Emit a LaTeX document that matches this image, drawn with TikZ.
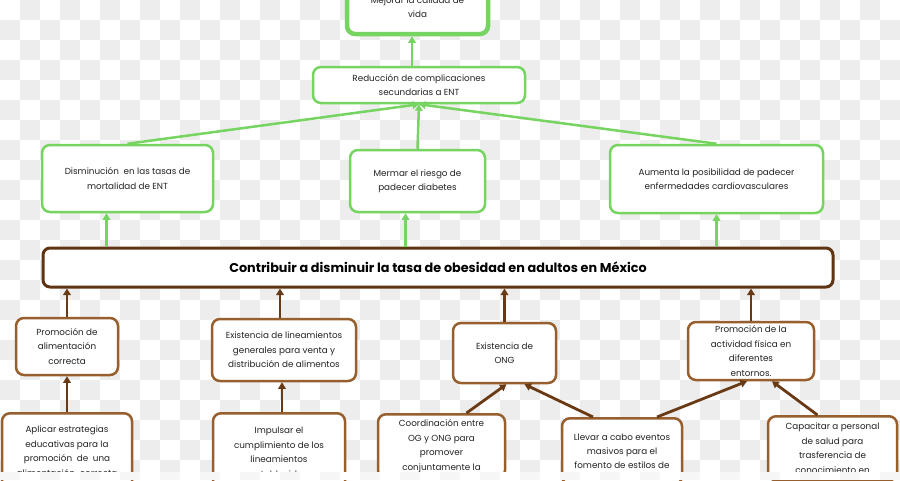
\documentclass[tikz,border=0pt]{standalone}
\usepackage{fontspec}
\setmainfont{Poppins}
\usetikzlibrary{arrows.meta, positioning, calc}
\definecolor{leafgreen}{RGB}{118,212,96}
\definecolor{barkbrown}{RGB}{150,95,45}
\definecolor{darkbark}{RGB}{95,52,18}
\definecolor{arrowbrown}{RGB}{105,58,20}
\definecolor{checkgray}{RGB}{237,237,237}
\definecolor{inktext}{RGB}{35,35,35}
\tikzset{
    effectbox/.style={rectangle, draw=leafgreen, line width=2.5pt, rounded corners=8pt,
        fill=white, align=center, text=inktext, inner sep=2pt,
        font=\fontsize{8.8}{14.4}\selectfont},
    causebox/.style={rectangle, draw=barkbrown, line width=2.5pt, rounded corners=8pt,
        fill=white, align=center, text=inktext, inner sep=2pt,
        font=\fontsize{8.8}{14.4}\selectfont},
    goalbox/.style={rectangle, draw=darkbark, line width=3pt, rounded corners=7pt,
        fill=white, align=center, text=black, inner sep=2pt,
        font=\fontsize{12.8}{15}\selectfont\bfseries},
    greenarrow/.style={-{Triangle[length=6.5pt,width=7.5pt]}, line width=2.5pt, draw=leafgreen},
    brownarrow/.style={-{Triangle[length=6.5pt,width=7.5pt]}, line width=2.8pt, draw=arrowbrown}
}

\begin{document}
\begin{tikzpicture}[x=1pt, y=-1pt]

    \useasboundingbox (0,0) rectangle (900,480);
    \clip (0,0) rectangle (900,480);

    % background checks
    \foreach \i in {0,...,44} {
        \pgfmathtruncatemacro{\off}{1-mod(\i,2)}
        \foreach \j in {0,2,...,22}
            \fill[checkgray] (20*\i, 20*\j+20*\off) rectangle ++(20,20);
    }

    % effects
    \node[effectbox, line width=4.5pt, minimum width=141pt, minimum height=54pt] (mejorar) at (417.5,7) {Mejorar la calidad de\\vida};
    \node[effectbox, minimum width=212pt, minimum height=36pt] (reduccion) at (419,85) {Reducción de complicaciones\\secundarias a ENT};
    \node[effectbox, minimum width=171pt, minimum height=67pt] (disminucion) at (127.5,178.5) {Disminución\ \ en las tasas de\\mortalidad de ENT};
    \node[effectbox, minimum width=135pt, minimum height=62pt] (mermar) at (417.5,181) {Mermar el riesgo de\\padecer diabetes};
    \node[effectbox, minimum width=213pt, minimum height=68pt] (aumenta) at (716.5,179) {Aumenta la posibilidad de padecer\\enfermedades cardiovasculares};

    \node[goalbox, minimum width=790pt, minimum height=39pt] (meta) at (438,267.5) {Contribuir a disminuir la tasa de obesidad en adultos en México};

    % causes
    \node[causebox, minimum width=102pt, minimum height=57pt] (alimentacion) at (67,346.5) {Promoción de\\alimentación\\correcta};
    \node[causebox, minimum width=144pt, minimum height=62pt] (lineamientos) at (284,350) {Existencia de lineamientos\\generales para venta y\\distribución de alimentos};
    \node[causebox, minimum width=103pt, minimum height=60pt] (ong) at (504.5,353) {Existencia de\\ONG};
    \node[causebox, minimum width=126pt, minimum height=58pt] (actividad) at (751,351) {Promoción de la\\actividad física en\\diferentes\\entornos.};

    \node[causebox, anchor=north, minimum width=130pt, minimum height=76pt] (estrategias) at (67,412) {Aplicar estrategias\\educativas para la\\promoción\ \ de\ \ una\\alimentación\ \ correcta};
    \node[causebox, anchor=north, minimum width=132pt, minimum height=78pt] (impulsar) at (279,412) {Impulsar el\\cumplimiento de los\\lineamientos\\establecidos};
    \node[causebox, anchor=north, minimum width=127pt, minimum height=64pt] (coordinacion) at (441.5,413) {Coordinación entre\\OG y ONG para\\promover\\conjuntamente la};
    \node[causebox, anchor=north, minimum width=120pt, minimum height=66pt] (eventos) at (622,417) {Llevar a cabo eventos\\masivos para el\\fomento de estilos de};
    \node[causebox, anchor=north, minimum width=129pt, minimum height=64pt] (capacitar) at (832.5,415) {Capacitar a personal\\de salud para\\trasferencia de\\conocimiento en};

    \draw[greenarrow] ([xshift=-7pt]reduccion.north) -- ([xshift=-7pt]reduccion.north |- mejorar.south);
    \foreach \src in {disminucion, mermar, aumenta}
        \draw[greenarrow] (\src.north) -- (reduccion.south);
    \draw[greenarrow] ([xshift=-21pt]disminucion.south |- meta.north) -- ([xshift=-21pt]disminucion.south);
    \draw[greenarrow] ([xshift=-12pt]mermar.south |- meta.north) -- ([xshift=-12pt]mermar.south);
    \draw[greenarrow] (aumenta.south |- meta.north) -- (aumenta.south);

    \draw[brownarrow] (alimentacion.north) -- (alimentacion.north |- meta.south);
    \draw[brownarrow] ([xshift=-4pt]lineamientos.north) -- ([xshift=-4pt]lineamientos.north |- meta.south);
    \draw[brownarrow] (ong.north) -- (ong.north |- meta.south);
    \draw[brownarrow] (actividad.north) -- (actividad.north |- meta.south);
    \draw[brownarrow] (estrategias.north) -- (alimentacion.south);
    \draw[brownarrow] ([xshift=3pt]impulsar.north) -- ([xshift=3pt]impulsar.north |- lineamientos.south);
    \draw[brownarrow] ([xshift=25pt]coordinacion.north) -- ([xshift=2pt]ong.south);
    \draw[brownarrow] ([xshift=-29pt]eventos.north) -- ([xshift=20pt]ong.south);
    \draw[brownarrow] ([xshift=35pt]eventos.north) -- ([xshift=-4pt]actividad.south);
    \draw[brownarrow] ([xshift=-15pt]capacitar.north) -- ([xshift=21pt]actividad.south);

    % bottom strip
    \fill[white] (0,472) rectangle (900,480);
    \foreach \i in {0,2,...,44}
        \fill[checkgray!50] (20*\i,472) rectangle ++(20,8);

\end{tikzpicture}
\end{document}
